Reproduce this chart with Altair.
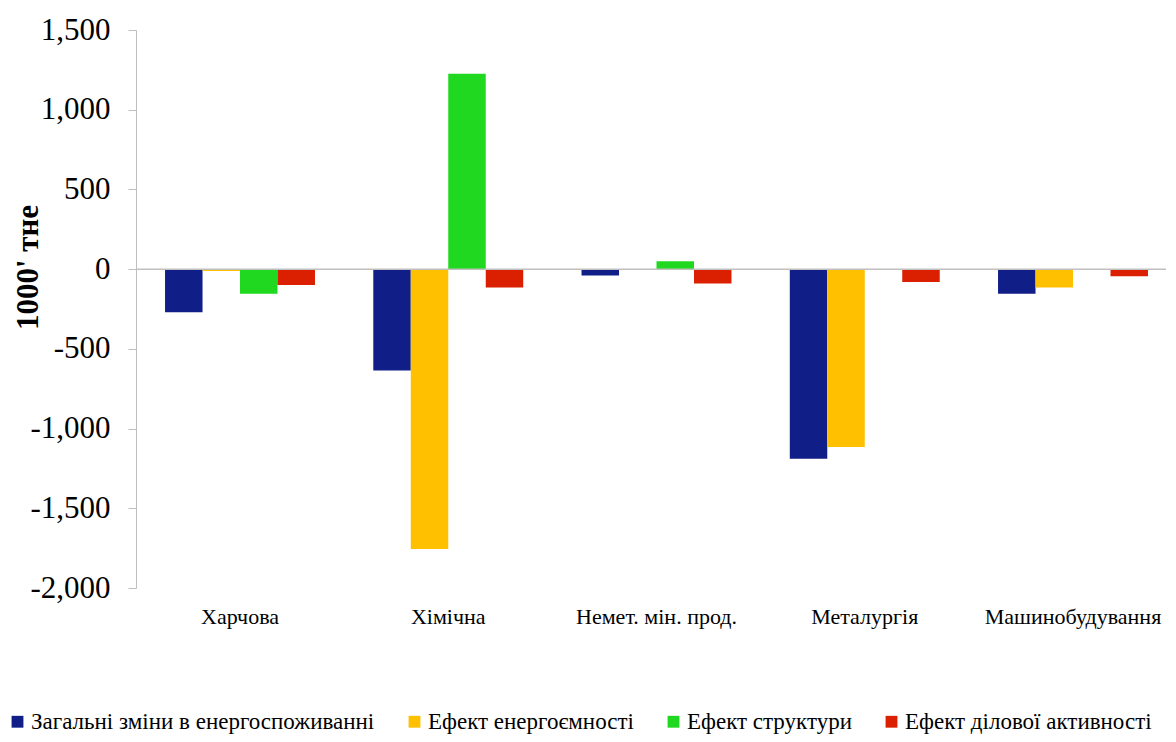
import altair as alt
import pandas as pd

categories = ["Харчова", "Хімічна", "Немет. мін. прод.", "Металургія", "Машинобудування"]
series = ["Загальні зміни в енергоспоживанні", "Ефект енергоємності", "Ефект структури", "Ефект ділової активності"]
colors = ["#101E87", "#FFC000", "#1FD81F", "#DA2000"]

total_change = [-270, -635, -40, -1190, -155]
intensity_effect = [-12, -1755, -5, -1115, -115]
structure_effect = [-155, 1225, 50, 0, -5]
activity_effect = [-100, -115, -90, -80, -45]
y_ticks = [-2000, -1500, -1000, -500, 0, 500, 1000, 1500]

values = [total_change, intensity_effect, structure_effect, activity_effect]
rows = []
for s, vals in zip(series, values):
    for c, v in zip(categories, vals):
        rows.append({"category": c, "series": s, "value": v})
df = pd.DataFrame(rows)

FONT = "Liberation Serif"

y_axis = alt.Axis(title="1000' тне", values=y_ticks,
                  labelExpr="replace(format(datum.value, ',.0f'), '\u2212', '-')",
                  grid=False, labelFont=FONT, labelFontSize=31,
                  labelColor="#000000", domainColor="#BFBFBF", tickColor="#BFBFBF",
                  tickSize=8, labelPadding=18,
                  titleFont=FONT, titleFontSize=31, titleFontWeight="bold",
                  titleColor="#000000", titleAngle=270, titleX=-108, titleY=237,
                  titleAlign="center", titleBaseline="middle")
y_scale = alt.Scale(domain=[-2000, 1500], nice=False)

bars = alt.Chart(df).mark_bar(opacity=1).encode(
    x=alt.X("category:N", sort=categories,
            scale=alt.Scale(paddingInner=0.28, paddingOuter=0.113, align=0.617),
            axis=alt.Axis(title=None, labelAngle=0, labelFont=FONT, labelFontSize=22,
                          labelColor="#000000", domain=False, ticks=False, labelPadding=18)),
    xOffset=alt.XOffset("series:N", sort=series, scale=alt.Scale(paddingInner=0, paddingOuter=0)),
    y=alt.Y("value:Q", scale=y_scale, axis=y_axis),
    color=alt.Color("series:N", sort=series,
                    scale=alt.Scale(domain=series, range=colors),
                    legend=alt.Legend(title=None, orient="none", direction="horizontal",
                                      columns=4, legendX=-130, legendY=680,
                                      symbolType="square", symbolSize=140, symbolStrokeWidth=0,
                                      labelFont=FONT, labelFontSize=23, labelColor="#000000",
                                      labelLimit=0, columnPadding=28, symbolOffset=0, labelOffset=2)),
)

zero = pd.DataFrame({"value": [0]})
zero_line = alt.Chart(zero).mark_rule(color="#BFBFBF", strokeWidth=1.5).encode(
    y=alt.Y("value:Q", scale=y_scale, axis=y_axis))

chart = alt.layer(bars, zero_line).properties(
    width=1030, height=558,
    autosize=alt.AutoSizeParams(type="none"),
    padding={"left": 128, "top": 22, "right": 2, "bottom": 146},
    background="#FFFFFF",
).configure_view(stroke=None).configure_axis(
    labelFont=FONT, titleFont=FONT
).configure_legend(labelFont=FONT, labelLimit=0)

chart.save("out.html", embed_options={"renderer": "svg", "actions": False})
